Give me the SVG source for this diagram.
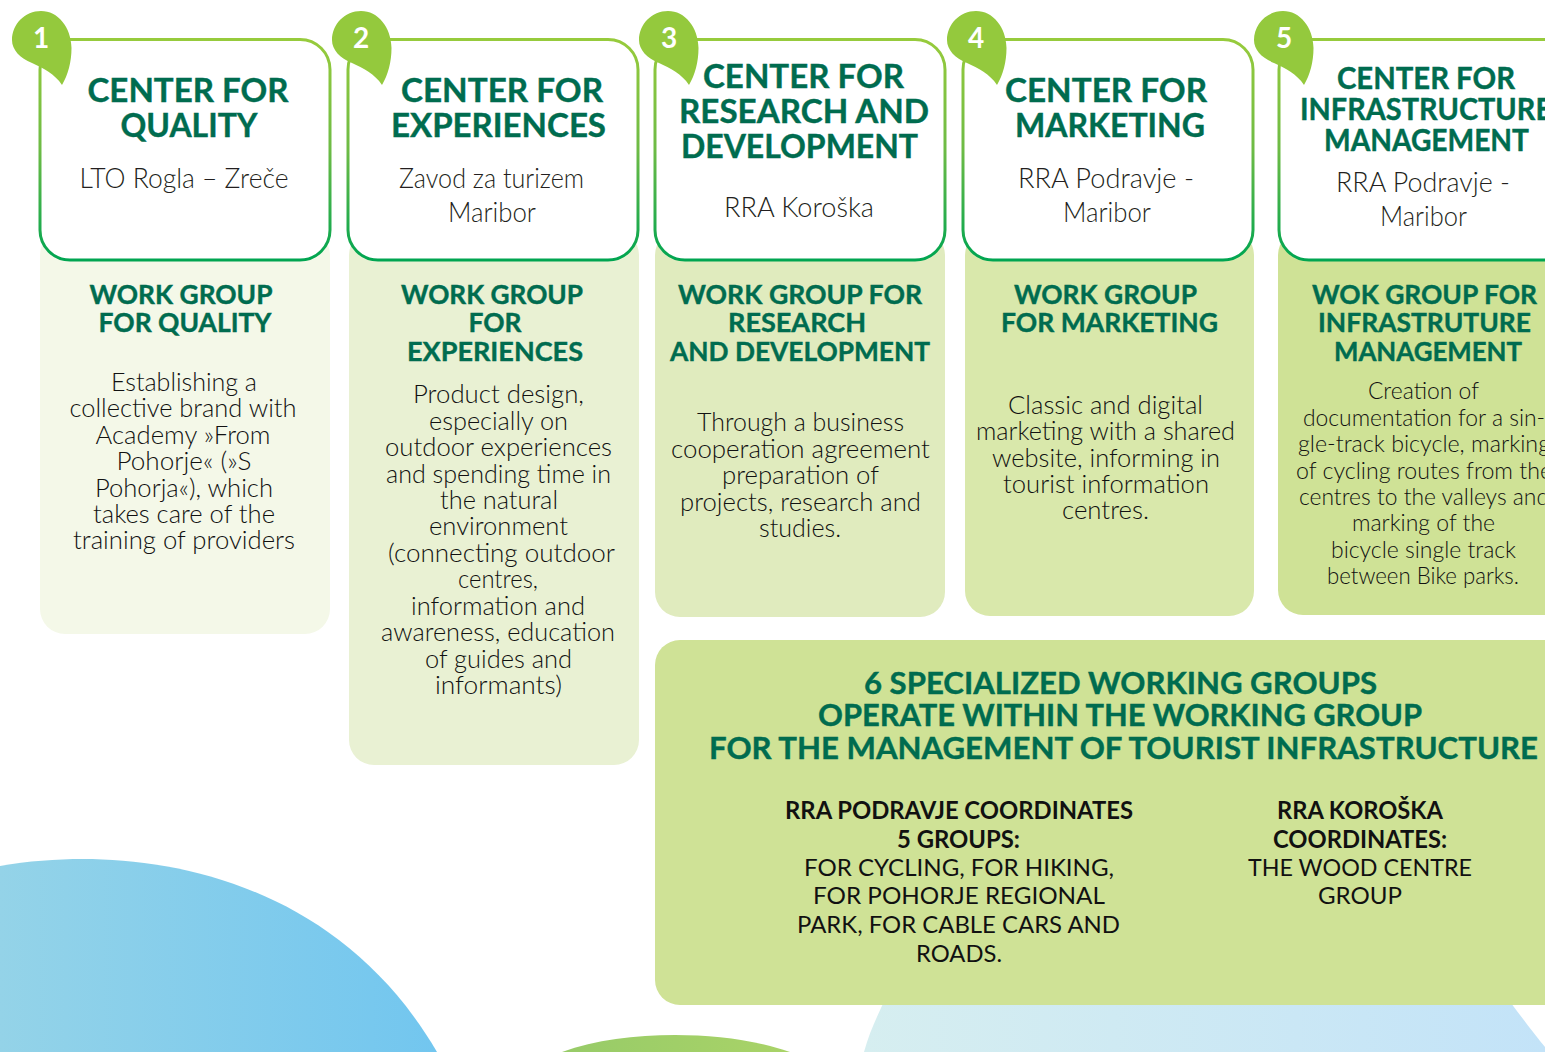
<svg xmlns="http://www.w3.org/2000/svg" width="1545" height="1052" viewBox="0 0 1545 1052">
<style>
text{text-anchor:middle;font-family:Lato,"Open Sans","Liberation Sans",sans-serif}
.c{font-size:33px;font-weight:700;fill:#006c4f;stroke:#006c4f;stroke-width:.4px;transform:translateY(1px)}
.c5{font-size:30px;font-weight:700;fill:#006c4f;stroke:#006c4f;stroke-width:.4px;transform:translateY(1px)}
.o{font-size:28px;font-weight:300;fill:#231f20}
.w{font-size:27px;font-weight:700;fill:#006c4f;stroke:#006c4f;stroke-width:.4px}
.b{font-size:25px;font-weight:300;fill:#111}
.b5{font-size:23px;font-weight:300;fill:#111}
.h{font-size:30px;font-weight:700;fill:#006c4f;stroke:#006c4f;stroke-width:.4px;transform:translateY(1px)}
.k{font-size:24px;font-weight:700;fill:#111;transform:translateY(1px)}
.r{font-size:24px;font-weight:400;fill:#111}
.n{font-size:28px;font-weight:700;fill:#fff}
.card{fill:#fff;stroke:url(#cs);stroke-width:3}
.leaf{fill:#94c93d}
</style>
<defs>
<linearGradient id="cs" x1="0" y1="0" x2="0" y2="1"><stop offset="0" stop-color="#97cb3c"/><stop offset="0.5" stop-color="#6dbb45"/><stop offset="1" stop-color="#00a551"/></linearGradient>
<linearGradient id="g1" x1="0" y1="0" x2="1" y2="0"><stop offset="0" stop-color="#94d3e8"/><stop offset="1" stop-color="#72c6ef"/></linearGradient>
<linearGradient id="g2" x1="0" y1="0" x2="1" y2="0"><stop offset="0" stop-color="#97cb68"/><stop offset="1" stop-color="#a9d368"/></linearGradient>
<linearGradient id="g3" x1="0" y1="0" x2="1" y2="0"><stop offset="0" stop-color="#d6eef0"/><stop offset="1" stop-color="#c3e3f8"/></linearGradient>
<path id="leaf" d="M62 85C55 74 43 68 32 63C20 58 12 50 12 40C12 24 25 11 41 11C58 11 71 27 71.500 48C71.500 62 68 75 62 85Z"/>
</defs>
<g id="background">
<path d="M0 866C28 861 56 859 83 859C190 859 345 895 437 1052L0 1052Z" fill="url(#g1)"/>
<path d="M562 1052C595 1040 635 1035 675 1035C715 1035 755 1040 790 1052Z" fill="url(#g2)"/>
<path d="M864 1052C870 1030 878 1015 887 995L1505 995C1520 1015 1535 1035 1545 1047L1545 1052Z" fill="url(#g3)"/>
</g>
<g id="center-1">
<rect x="40" y="230" width="290" height="404" rx="25" fill="#f4f8e8"/>
<rect class="card" x="40" y="39.500" width="290" height="220.500" rx="30"/>
<use href="#leaf" class="leaf"/>
<text class="n" x="41" y="48">1</text>
<text class="c" x="188" y="101" textLength="201" lengthAdjust="spacingAndGlyphs">CENTER FOR</text>
<text class="c" x="189" y="136" textLength="137" lengthAdjust="spacingAndGlyphs">QUALITY</text>
<text class="o" x="184" y="188" textLength="209" lengthAdjust="spacingAndGlyphs">LTO Rogla – Zreče</text>
<text class="w" x="181" y="304" textLength="183" lengthAdjust="spacingAndGlyphs">WORK GROUP</text>
<text class="w" x="185" y="332" textLength="173" lengthAdjust="spacingAndGlyphs">FOR QUALITY</text>
<text class="b" x="184" y="391" textLength="146" lengthAdjust="spacingAndGlyphs">Establishing a</text>
<text class="b" x="183" y="417" textLength="227" lengthAdjust="spacingAndGlyphs">collective brand with</text>
<text class="b" x="183" y="444" textLength="175" lengthAdjust="spacingAndGlyphs">Academy »From</text>
<text class="b" x="184" y="470" textLength="135" lengthAdjust="spacingAndGlyphs">Pohorje« (»S</text>
<text class="b" x="184" y="497" textLength="178" lengthAdjust="spacingAndGlyphs">Pohorja«), which</text>
<text class="b" x="184" y="523" textLength="182" lengthAdjust="spacingAndGlyphs">takes care of the</text>
<text class="b" x="184" y="549" textLength="222" lengthAdjust="spacingAndGlyphs">training of providers</text>
</g>
<g id="center-2">
<rect x="349" y="230" width="290" height="535" rx="25" fill="#e9f1d3"/>
<rect class="card" x="348" y="39.500" width="290" height="220.500" rx="30"/>
<use href="#leaf" class="leaf" x="320"/>
<text class="n" x="361" y="48">2</text>
<text class="c" x="502" y="101" textLength="202" lengthAdjust="spacingAndGlyphs">CENTER FOR</text>
<text class="c" x="498.500" y="136" textLength="215" lengthAdjust="spacingAndGlyphs">EXPERIENCES</text>
<text class="o" x="491.500" y="188" textLength="185" lengthAdjust="spacingAndGlyphs">Zavod za turizem</text>
<text class="o" x="492" y="222" textLength="88" lengthAdjust="spacingAndGlyphs">Maribor</text>
<text class="w" x="492" y="304" textLength="182" lengthAdjust="spacingAndGlyphs">WORK GROUP</text>
<text class="w" x="495" y="332" textLength="53" lengthAdjust="spacingAndGlyphs">FOR</text>
<text class="w" x="495" y="361" textLength="176" lengthAdjust="spacingAndGlyphs">EXPERIENCES</text>
<text class="b" x="498.500" y="403" textLength="171" lengthAdjust="spacingAndGlyphs">Product design,</text>
<text class="b" x="498.500" y="430" textLength="139" lengthAdjust="spacingAndGlyphs">especially on</text>
<text class="b" x="498.500" y="456" textLength="227" lengthAdjust="spacingAndGlyphs">outdoor experiences</text>
<text class="b" x="498.500" y="483" textLength="225" lengthAdjust="spacingAndGlyphs">and spending time in</text>
<text class="b" x="499" y="509" textLength="118" lengthAdjust="spacingAndGlyphs">the natural</text>
<text class="b" x="498.500" y="535" textLength="139" lengthAdjust="spacingAndGlyphs">environment</text>
<text class="b" x="501.500" y="562" textLength="227" lengthAdjust="spacingAndGlyphs">(connecting outdoor</text>
<text class="b" x="498" y="588" textLength="80" lengthAdjust="spacingAndGlyphs">centres,</text>
<text class="b" x="498" y="615" textLength="174" lengthAdjust="spacingAndGlyphs">information and</text>
<text class="b" x="498" y="641" textLength="234" lengthAdjust="spacingAndGlyphs">awareness, education</text>
<text class="b" x="498.500" y="668" textLength="147" lengthAdjust="spacingAndGlyphs">of guides and</text>
<text class="b" x="498.500" y="694" textLength="127" lengthAdjust="spacingAndGlyphs">informants)</text>
</g>
<g id="center-3">
<rect x="655" y="230" width="290" height="387" rx="25" fill="#e0ebbe"/>
<rect class="card" x="655" y="39.500" width="290" height="220.500" rx="30"/>
<use href="#leaf" class="leaf" x="627"/>
<text class="n" x="669" y="48">3</text>
<text class="c" x="803.500" y="87" textLength="201" lengthAdjust="spacingAndGlyphs">CENTER FOR</text>
<text class="c" x="804" y="122" textLength="250" lengthAdjust="spacingAndGlyphs">RESEARCH AND</text>
<text class="c" x="799.500" y="157" textLength="237" lengthAdjust="spacingAndGlyphs">DEVELOPMENT</text>
<text class="o" x="799" y="217" textLength="150" lengthAdjust="spacingAndGlyphs">RRA Koroška</text>
<text class="w" x="800" y="304" textLength="244" lengthAdjust="spacingAndGlyphs">WORK GROUP FOR</text>
<text class="w" x="797" y="332" textLength="138" lengthAdjust="spacingAndGlyphs">RESEARCH</text>
<text class="w" x="800" y="361" textLength="260" lengthAdjust="spacingAndGlyphs">AND DEVELOPMENT</text>
<text class="b" x="800.500" y="431" textLength="207" lengthAdjust="spacingAndGlyphs">Through a business</text>
<text class="b" x="800.500" y="458" textLength="259" lengthAdjust="spacingAndGlyphs">cooperation agreement</text>
<text class="b" x="800.500" y="484" textLength="157" lengthAdjust="spacingAndGlyphs">preparation of</text>
<text class="b" x="800.500" y="511" textLength="241" lengthAdjust="spacingAndGlyphs">projects, research and</text>
<text class="b" x="800" y="537" textLength="82" lengthAdjust="spacingAndGlyphs">studies.</text>
</g>
<g id="center-4">
<rect x="965" y="230" width="289" height="386" rx="25" fill="#d9e8ab"/>
<rect class="card" x="963" y="39.500" width="290" height="220.500" rx="30"/>
<use href="#leaf" class="leaf" x="935"/>
<text class="n" x="976" y="48">4</text>
<text class="c" x="1106" y="101" textLength="202" lengthAdjust="spacingAndGlyphs">CENTER FOR</text>
<text class="c" x="1110" y="136" textLength="190" lengthAdjust="spacingAndGlyphs">MARKETING</text>
<text class="o" x="1106" y="188" textLength="176" lengthAdjust="spacingAndGlyphs">RRA Podravje -</text>
<text class="o" x="1107" y="222" textLength="88" lengthAdjust="spacingAndGlyphs">Maribor</text>
<text class="w" x="1105.500" y="304" textLength="183" lengthAdjust="spacingAndGlyphs">WORK GROUP</text>
<text class="w" x="1109.500" y="332" textLength="217" lengthAdjust="spacingAndGlyphs">FOR MARKETING</text>
<text class="b" x="1105.500" y="414" textLength="195" lengthAdjust="spacingAndGlyphs">Classic and digital</text>
<text class="b" x="1105.500" y="440" textLength="259" lengthAdjust="spacingAndGlyphs">marketing with a shared</text>
<text class="b" x="1106" y="467" textLength="228" lengthAdjust="spacingAndGlyphs">website, informing in</text>
<text class="b" x="1106" y="493" textLength="206" lengthAdjust="spacingAndGlyphs">tourist information</text>
<text class="b" x="1105.500" y="519" textLength="87" lengthAdjust="spacingAndGlyphs">centres.</text>
</g>
<g id="center-5">
<rect x="1278" y="230" width="300" height="385" rx="25" fill="#cfe296"/>
<rect class="card" x="1279" y="39.500" width="300" height="220.500" rx="30"/>
<use href="#leaf" class="leaf" x="1242"/>
<text class="n" x="1284" y="48">5</text>
<text class="c5" x="1426" y="88" textLength="178" lengthAdjust="spacingAndGlyphs">CENTER FOR</text>
<text class="c5" x="1426" y="119" textLength="252" lengthAdjust="spacingAndGlyphs">INFRASTRUCTURE</text>
<text class="c5" x="1426.500" y="150" textLength="205" lengthAdjust="spacingAndGlyphs">MANAGEMENT</text>
<text class="o" x="1423" y="192" textLength="174" lengthAdjust="spacingAndGlyphs">RRA Podravje -</text>
<text class="o" x="1423.500" y="226" textLength="87" lengthAdjust="spacingAndGlyphs">Maribor</text>
<text class="w" x="1424.500" y="304" textLength="225" lengthAdjust="spacingAndGlyphs">WOK GROUP FOR</text>
<text class="w" x="1424.500" y="332" textLength="213" lengthAdjust="spacingAndGlyphs">INFRASTRUTURE</text>
<text class="w" x="1428" y="361" textLength="188" lengthAdjust="spacingAndGlyphs">MANAGEMENT</text>
<text class="b5" x="1423.500" y="399" textLength="111" lengthAdjust="spacingAndGlyphs">Creation of</text>
<text class="b5" x="1424" y="426" textLength="242" lengthAdjust="spacingAndGlyphs">documentation for a sin-</text>
<text class="b5" x="1424" y="452" textLength="252" lengthAdjust="spacingAndGlyphs">gle-track bicycle, marking</text>
<text class="b5" x="1424" y="479" textLength="256" lengthAdjust="spacingAndGlyphs">of cycling routes from the</text>
<text class="b5" x="1424" y="505" textLength="250" lengthAdjust="spacingAndGlyphs">centres to the valleys and</text>
<text class="b5" x="1423.500" y="531" textLength="143" lengthAdjust="spacingAndGlyphs">marking of the</text>
<text class="b5" x="1423.500" y="558" textLength="185" lengthAdjust="spacingAndGlyphs">bicycle single track</text>
<text class="b5" x="1423" y="584" textLength="192" lengthAdjust="spacingAndGlyphs">between Bike parks.</text>
</g>
<g id="working-groups">
<rect x="655" y="640" width="960" height="365" rx="25" fill="#cfe296"/>
<text class="h" x="1120.500" y="693" textLength="513" lengthAdjust="spacingAndGlyphs">6 SPECIALIZED WORKING GROUPS</text>
<text class="h" x="1120" y="725" textLength="604" lengthAdjust="spacingAndGlyphs">OPERATE WITHIN THE WORKING GROUP</text>
<text class="h" x="1123.500" y="758" textLength="829" lengthAdjust="spacingAndGlyphs">FOR THE MANAGEMENT OF TOURIST INFRASTRUCTURE</text>
<text class="k" x="959" y="818" textLength="348" lengthAdjust="spacingAndGlyphs">RRA PODRAVJE COORDINATES</text>
<text class="k" x="958.500" y="847" textLength="123" lengthAdjust="spacingAndGlyphs">5 GROUPS:</text>
<text class="r" x="959" y="876" textLength="310" lengthAdjust="spacingAndGlyphs">FOR CYCLING, FOR HIKING,</text>
<text class="r" x="959" y="904" textLength="292" lengthAdjust="spacingAndGlyphs">FOR POHORJE REGIONAL</text>
<text class="r" x="958.500" y="933" textLength="323" lengthAdjust="spacingAndGlyphs">PARK, FOR CABLE CARS AND</text>
<text class="r" x="959" y="962" textLength="86" lengthAdjust="spacingAndGlyphs">ROADS.</text>
<text class="k" x="1360" y="818" textLength="166" lengthAdjust="spacingAndGlyphs">RRA KOROŠKA</text>
<text class="k" x="1360" y="847" textLength="174" lengthAdjust="spacingAndGlyphs">COORDINATES:</text>
<text class="r" x="1360" y="876" textLength="224" lengthAdjust="spacingAndGlyphs">THE WOOD CENTRE</text>
<text class="r" x="1360" y="904" textLength="84" lengthAdjust="spacingAndGlyphs">GROUP</text>
</g>
</svg>
